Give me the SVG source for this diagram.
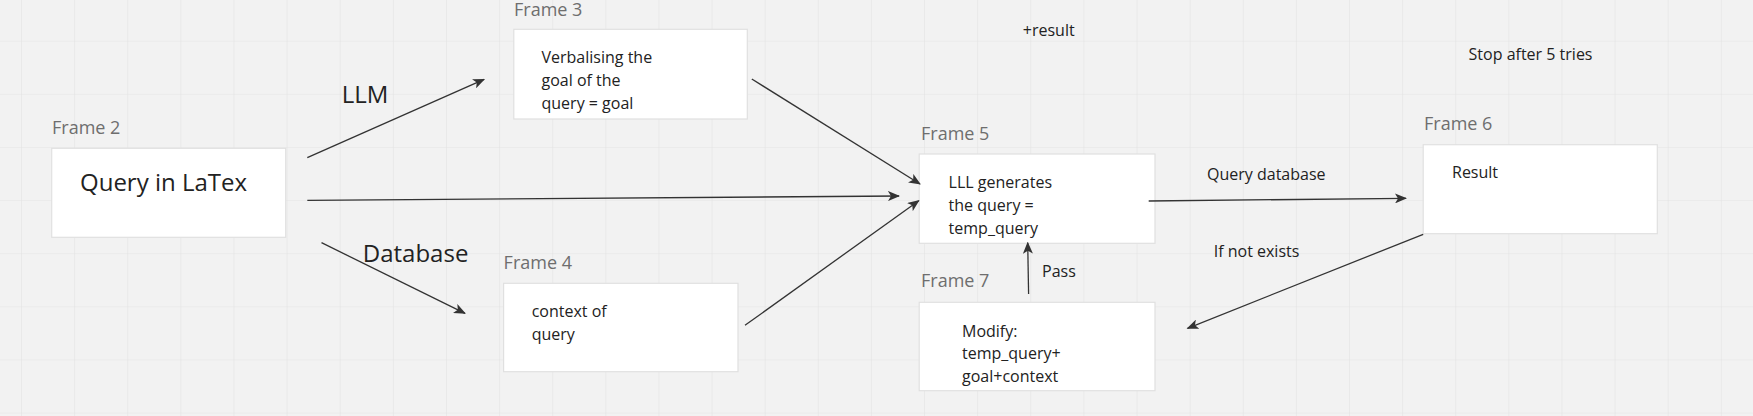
<svg xmlns="http://www.w3.org/2000/svg" width="1753" height="416" viewBox="0 0 1753 416">
<defs>
<pattern id="grid" x="21" y="40.7" width="53.12" height="53.12" patternUnits="userSpaceOnUse">
<path d="M0,0 V53.12 M0,0 H53.12" stroke="#e3e3e3" stroke-width="1.2" fill="none"/>
</pattern>
<marker id="arr" viewBox="0 0 12 10" refX="11" refY="5" markerWidth="12" markerHeight="10" markerUnits="userSpaceOnUse" orient="auto">
<path d="M0,0 L12,5 L0,10 L3,5 z" fill="#333"/>
</marker>
<style>
.box{fill:#fff;stroke:#e0e0e0;stroke-width:1.2}
.flabel{font-family:"Open Sans","Noto Sans",sans-serif;font-size:18px;fill:#6e6e6e}
.t{font-family:"Open Sans","Noto Sans",sans-serif;font-size:16px;fill:#222}
.big{font-family:"Open Sans","Noto Sans",sans-serif;font-size:24px;fill:#222}
.conn line{stroke:#333;stroke-width:1.3;fill:none;marker-end:url(#arr)}
</style>
</defs>
<rect width="1753" height="416" fill="#f2f2f2"/>
<rect width="1753" height="416" fill="url(#grid)"/>

<g id="frame2">
<text class="flabel" x="52" y="134">Frame 2</text>
<rect class="box" x="51.7" y="148.3" width="234" height="89"/>
<text class="big" x="80" y="191">Query in LaTex</text>
</g>

<g id="frame3">
<text class="flabel" x="514" y="16">Frame 3</text>
<rect class="box" x="513.8" y="29.3" width="233.5" height="89.7"/>
<text class="t" x="541.5" y="63.3">Verbalising the</text>
<text class="t" x="541.5" y="86">goal of the</text>
<text class="t" x="541.5" y="108.7">query = goal</text>
</g>

<g id="frame4">
<text class="flabel" x="503.6" y="268.7">Frame 4</text>
<rect class="box" x="503.6" y="283.3" width="234.4" height="88.4"/>
<text class="t" x="531.7" y="317.3">context of</text>
<text class="t" x="531.7" y="340">query</text>
</g>

<g id="frame5">
<text class="flabel" x="921" y="140">Frame 5</text>
<rect class="box" x="919.2" y="154" width="235.8" height="89.3"/>
<text class="t" x="948.6" y="188.3">LLL generates</text>
<text class="t" x="948.6" y="211">the query =</text>
<text class="t" x="948.6" y="233.7">temp_query</text>
</g>

<g id="frame6">
<text class="flabel" x="1424" y="130">Frame 6</text>
<rect class="box" x="1423.2" y="144.7" width="234.1" height="89"/>
<text class="t" x="1452" y="178.3">Result</text>
</g>

<g id="frame7">
<text class="flabel" x="921" y="287.3">Frame 7</text>
<rect class="box" x="919.2" y="302.3" width="235.8" height="88.4"/>
<text class="t" x="962" y="336.7">Modify:</text>
<text class="t" x="962" y="359.3">temp_query+</text>
<text class="t" x="962" y="382">goal+context</text>
</g>

<g id="connectors" class="conn">
<line x1="307.3" y1="157.7" x2="484.1" y2="79.3"/>
<line x1="307.3" y1="200.3" x2="899" y2="196"/>
<line x1="321.5" y1="242.7" x2="465" y2="313.3"/>
<line x1="751.8" y1="79" x2="920" y2="184"/>
<line x1="745" y1="325.3" x2="918.8" y2="200.7"/>
<line x1="1148.7" y1="201" x2="1406" y2="198.3"/>
<line x1="1423.2" y1="234.3" x2="1187.5" y2="328.3"/>
<line x1="1028.6" y1="294" x2="1027.7" y2="242.7"/>
</g>

<g id="labels">
<text class="big" x="341.8" y="103.3">LLM</text>
<text class="big" x="362.8" y="262.3">Database</text>
<text class="t" x="1022.8" y="36">+result</text>
<text class="t" x="1042" y="276.7">Pass</text>
<text class="t" x="1207" y="180">Query database</text>
<text class="t" x="1213.7" y="256.7">If not exists</text>
<text class="t" x="1468.6" y="60">Stop after 5 tries</text>
</g>
</svg>
